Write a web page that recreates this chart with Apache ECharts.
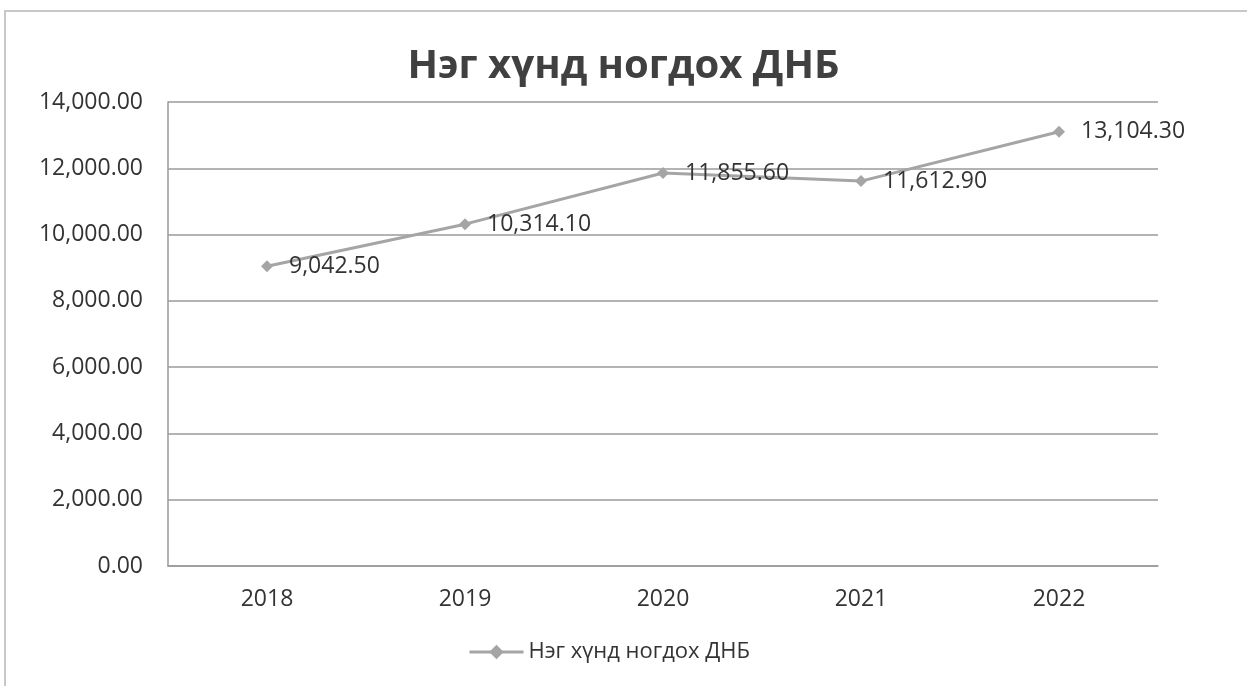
<!DOCTYPE html>
<html><head><meta charset="utf-8">
<script src="https://cdn.jsdelivr.net/npm/echarts@6/dist/echarts.min.js"></script>
<style>html,body{margin:0;padding:0;background:#fff}#c{width:1247px;height:686px;position:relative}
#frame{position:absolute;left:4px;top:10px;width:1300px;height:800px;border:2px solid #c8c8c8;box-sizing:border-box;pointer-events:none}</style>
</head><body><div id="c"></div><div id="frame"></div>
<script>
const title = 'Нэг хүнд ногдох ДНБ';
const seriesName = 'Нэг хүнд ногдох ДНБ';
const categories = ['2018', '2019', '2020', '2021', '2022'];
const values = [9042.50, 10314.10, 11855.60, 11612.90, 13104.30];
const yMin = 0, yMax = 14000, yStep = 2000;

function fmt(v) {
  return Number(v).toLocaleString('en-US', {minimumFractionDigits: 2, maximumFractionDigits: 2});
}
const font = '"Open Sans", "Noto Sans", sans-serif';
const chart = echarts.init(document.getElementById('c'));
chart.setOption({
  animation: false,
  backgroundColor: '#fff',
  title: {
    text: title, left: 'center', top: 42,
    textStyle: {fontFamily: font, fontSize: 40, fontWeight: 'bold', color: '#404040'}
  },
  legend: {
    bottom: 18, left: 463,
    itemWidth: 54, itemHeight: 18, itemGap: 8,
    lineStyle: {width: 3},
    textStyle: {fontFamily: font, fontSize: 22, color: '#333'},
    data: [seriesName]
  },
  grid: {left: 168, right: 89, top: 102, bottom: 120},
  xAxis: {
    type: 'category', data: categories, boundaryGap: true,
    axisLine: {lineStyle: {color: '#9a9a9a', width: 1.5}},
    axisTick: {show: false},
    axisLabel: {fontFamily: font, fontSize: 23, color: '#333', margin: 22}
  },
  yAxis: {
    type: 'value', min: yMin, max: yMax, interval: yStep,
    axisLine: {show: true, lineStyle: {color: '#9a9a9a', width: 1.5}},
    axisTick: {show: false},
    splitLine: {lineStyle: {color: '#9a9a9a', width: 1.5}},
    axisLabel: {fontFamily: font, fontSize: 23, color: '#333', margin: 25, formatter: fmt}
  },
  series: [{
    name: seriesName, type: 'line', data: values,
    symbol: 'diamond', symbolSize: 12,
    lineStyle: {color: '#a5a5a5', width: 3},
    itemStyle: {color: '#a5a5a5'},
    label: {show: true, position: 'right', distance: 16, fontFamily: font, fontSize: 23, color: '#333',
      formatter: p => fmt(p.value)}
  }]
});
</script></body></html>
